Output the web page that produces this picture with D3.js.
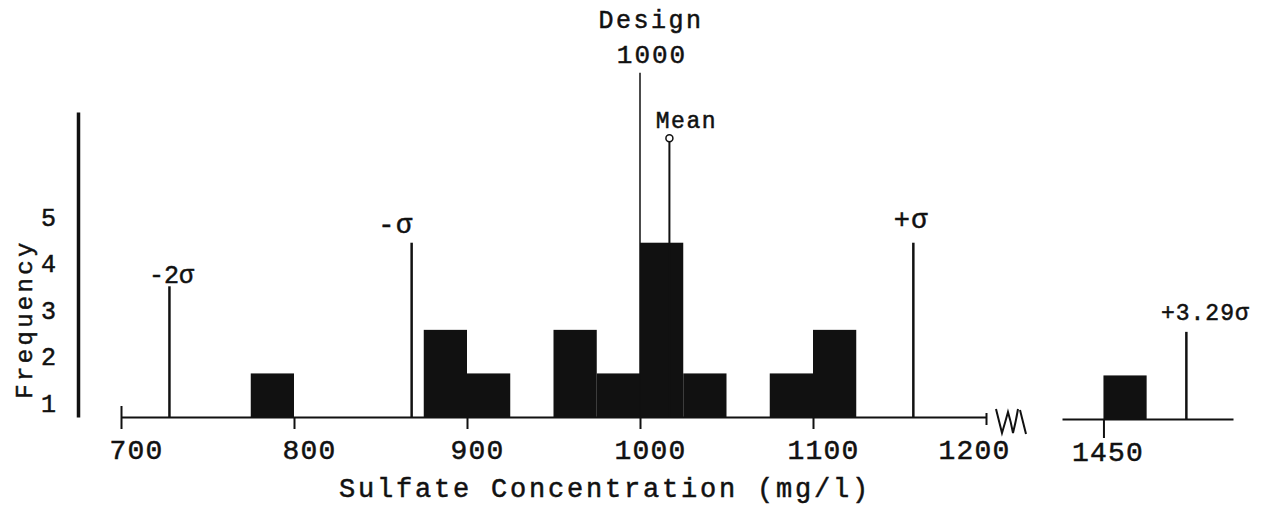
<!DOCTYPE html>
<html lang="en">
<head>
<meta charset="UTF-8">
<title>Sulfate Concentration</title>
<script src="https://cdnjs.cloudflare.com/ajax/libs/d3/7.8.5/d3.min.js"></script>
<style>
    body { margin: 0; background: #fff; }
    svg text {
        font-family: "Liberation Mono", "DejaVu Sans Mono", monospace;
        fill: #111;
        stroke: #111;
        stroke-width: 0.5px;
    }
</style>
</head>
<body>
<div class="container"></div>
<script>
    // histogram bins (start of each 25 mg/l bin) and counts
    const binStarts = [775, 875, 900, 950, 975, 1000, 1025, 1075, 1100];
    const binFreqs = [1, 2, 1, 2, 1, 4, 1, 1, 2];
    const outlierStarts = [1450];
    const outlierFreqs = [1];
    const binWidth = 25;

    // sigma markers
    const sigmaLabels = ['-2σ', '-σ', '+σ'];
    const sigmaValues = [728, 868, 1158];
    const sigmaHeights = [3, 4, 4];
    const farLabels = ['+3.29σ'];
    const farValues = [1498];
    const farHeights = [2];

    const designValue = 1000;
    const designHeight = 7.9;
    const meanValue = 1017;
    const meanHeight = 6.4;

    const xTicks = [700, 800, 900, 1000, 1100, 1200];
    const xTicksRight = [1450];
    const yTicks = [1, 2, 3, 4, 5];

    const svg = d3.select('.container')
        .append('svg')
        .attr('width', 1287)
        .attr('height', 510);

    const ink = '#111';
    const mono = '"Liberation Mono", monospace';

    const x = d3.scaleLinear().domain([700, 1200]).range([121, 986]);
    const xR = d3.scaleLinear().domain([1426, 1525]).range([1062, 1233]);
    const y = d3.scaleLinear().domain([0, 7]).range([417, 112]);
    const yLab = d3.scaleLinear().domain([1, 5]).range([403, 217]);

    // ---- left y axis (plain line) and typed labels
    svg.append('g')
        .attr('transform', 'translate(78, 0)')
        .call(d3.axisLeft(y).tickValues([]).tickSizeOuter(0))
        .select('.domain')
        .attr('stroke', ink)
        .attr('stroke-width', 3.5);

    const yl = svg.append('g')
        .attr('transform', 'translate(56, 0)')
        .call(d3.axisLeft(yLab).tickValues(yTicks).tickSize(0).tickPadding(0).tickFormat(d3.format('d')));
    yl.select('.domain').remove();
    yl.selectAll('text')
        .attr('font-size', 25)
        .attr('font-family', mono);

    svg.append('text')
        .attr('transform', 'translate(32, 319) rotate(-90)')
        .attr('text-anchor', 'middle')
        .attr('font-size', 24)
        .attr('letter-spacing', 3.3)
        .text('Frequency');

    // ---- bottom axis, left segment
    const gx = svg.append('g')
        .attr('transform', 'translate(0, ' + y(0) + ')')
        .call(d3.axisBottom(x).tickValues(xTicks).tickSize(12).tickSizeOuter(0)
            .tickPadding(10).tickFormat(d3.format('d')));
    gx.select('.domain').attr('stroke', ink).attr('stroke-width', 2);
    gx.selectAll('.tick line').attr('stroke', ink).attr('stroke-width', 2)
        .attr('y1', d => d === 700 ? -11 : (d === 1200 ? -4 : 0))
        .attr('y2', d => d === 1200 ? 8 : 12);
    gx.selectAll('.tick text')
        .attr('font-size', 28)
        .attr('font-family', mono)
        .attr('letter-spacing', 1.2)
        .attr('dx', d => d === 1200 ? -12 : (d <= 800 ? 15 : 10))
        .attr('fill', ink);

    // axis break squiggle
    svg.append('path')
        .attr('d', 'M' + (x(1200) + 10) + ',409 q3,12 6,24 q3,-10 6,-21 q3,10 5,21 q3,-12 5,-24 M' + (x(1200) + 34) + ',410 l6,24')
        .attr('fill', 'none')
        .attr('stroke', ink)
        .attr('stroke-width', 2);

    // ---- bottom axis, right segment
    const gxR = svg.append('g')
        .attr('transform', 'translate(0, ' + (y(0) + 2) + ')')
        .call(d3.axisBottom(xR).tickValues(xTicksRight).tickSize(19).tickSizeOuter(0)
            .tickPadding(3).tickFormat(d3.format('d')));
    gxR.select('.domain').attr('stroke', ink).attr('stroke-width', 2);
    gxR.selectAll('.tick line').attr('stroke', ink).attr('stroke-width', 2);
    gxR.selectAll('.tick text')
        .attr('font-size', 28)
        .attr('font-family', mono)
        .attr('letter-spacing', 1.2)
        .attr('dx', 4)
        .attr('fill', ink);

    svg.append('text')
        .attr('x', 605)
        .attr('y', 497)
        .attr('text-anchor', 'middle')
        .attr('font-size', 27)
        .attr('letter-spacing', 2.8)
        .text('Sulfate Concentration (mg/l)');

    // ---- bars
    const bins = binStarts.map((d, i) => ({start: d, freq: binFreqs[i]}));
    svg.append('g').selectAll('rect')
        .data(bins)
        .enter()
        .append('rect')
        .attr('fill', ink)
        .attr('x', d => x(d.start))
        .attr('width', d => x(d.start + binWidth) - x(d.start))
        .attr('y', d => y(d.freq))
        .attr('height', d => y(0) - y(d.freq));

    const outliers = outlierStarts.map((d, i) => ({start: d, freq: outlierFreqs[i]}));
    svg.append('g')
        .attr('transform', 'translate(0, 2)')
        .selectAll('rect')
        .data(outliers)
        .enter()
        .append('rect')
        .attr('fill', ink)
        .attr('x', d => xR(d.start))
        .attr('width', d => xR(d.start + binWidth) - xR(d.start))
        .attr('y', d => y(d.freq))
        .attr('height', d => y(0) - y(d.freq));

    // ---- sigma lines
    const sigmas = sigmaValues.map((d, i) => ({v: d, h: sigmaHeights[i], label: sigmaLabels[i]}));
    const anchors = {'-2σ': ['middle', 2, -3], '-σ': ['end', 2, -10], '+σ': ['middle', -2, -15]};

    const sg = svg.append('g');
    sg.selectAll('line')
        .data(sigmas)
        .enter()
        .append('line')
        .attr('x1', d => x(d.v))
        .attr('x2', d => x(d.v))
        .attr('y1', y(0))
        .attr('y2', d => y(d.h))
        .attr('stroke', ink)
        .attr('stroke-width', 2.5);
    sg.selectAll('text')
        .data(sigmas)
        .enter()
        .append('text')
        .attr('x', d => x(d.v) + anchors[d.label][1])
        .attr('y', d => y(d.h) + anchors[d.label][2])
        .attr('text-anchor', d => anchors[d.label][0])
        .attr('font-size', d => d.label === '-2σ' ? 25 : 27)
        .attr('letter-spacing', d => d.label === '-2σ' ? 0 : 1.5)
        .text(d => d.label);

    const far = farValues.map((d, i) => ({v: d, h: farHeights[i], label: farLabels[i]}));
    const fg = svg.append('g').attr('transform', 'translate(0, 2)');
    fg.selectAll('line')
        .data(far)
        .enter()
        .append('line')
        .attr('x1', d => xR(d.v))
        .attr('x2', d => xR(d.v))
        .attr('y1', y(0))
        .attr('y2', d => y(d.h))
        .attr('stroke', ink)
        .attr('stroke-width', 2.5);
    fg.selectAll('text')
        .data(far)
        .enter()
        .append('text')
        .attr('x', d => xR(d.v) + 19)
        .attr('y', d => y(d.h) - 12)
        .attr('text-anchor', 'middle')
        .attr('font-size', 23)
        .attr('letter-spacing', 1)
        .text(d => d.label);

    // ---- design and mean
    svg.append('line')
        .attr('x1', x(designValue))
        .attr('x2', x(designValue))
        .attr('y1', y(0))
        .attr('y2', y(designHeight))
        .attr('stroke', ink)
        .attr('stroke-width', 1.5);
    svg.append('text')
        .attr('x', x(designValue) + 11)
        .attr('y', 28)
        .attr('text-anchor', 'middle')
        .attr('font-size', 25)
        .attr('letter-spacing', 2.5)
        .text('Design');
    svg.append('text')
        .attr('x', x(designValue) + 12)
        .attr('y', 63)
        .attr('text-anchor', 'middle')
        .attr('font-size', 26)
        .attr('letter-spacing', 2)
        .text(designValue);

    svg.append('line')
        .attr('x1', x(meanValue))
        .attr('x2', x(meanValue))
        .attr('y1', y(0))
        .attr('y2', y(meanHeight) + 3)
        .attr('stroke', ink)
        .attr('stroke-width', 2);
    svg.append('circle')
        .attr('cx', x(meanValue))
        .attr('cy', y(meanHeight))
        .attr('r', 3.5)
        .attr('fill', '#fff')
        .attr('stroke', ink)
        .attr('stroke-width', 1.5);
    svg.append('text')
        .attr('x', x(meanValue) + 17)
        .attr('y', y(meanHeight) - 10)
        .attr('text-anchor', 'middle')
        .attr('font-size', 23)
        .attr('letter-spacing', 1.5)
        .text('Mean');
</script>
</body>
</html>
